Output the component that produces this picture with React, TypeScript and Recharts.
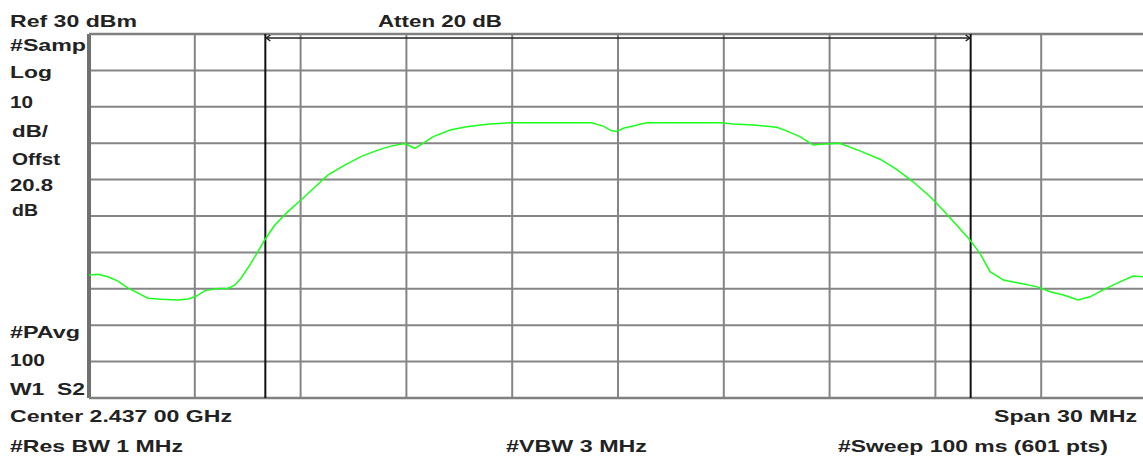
import React from "react";
import { LineChart, Line, XAxis, YAxis, CartesianGrid, ReferenceLine } from "recharts";

// Frequency offset from center (MHz) and trace power (dBm)
const FREQ_OFFSET_MHZ = [
    -15.0, -14.74, -14.46, -14.18, -13.89, -13.61, -13.33, -12.96, -12.48, -12.19,
    -11.99, -11.71, -11.34, -11.06, -10.87, -10.69, -10.41, -10.21, -10.02, -9.73,
    -9.36, -8.99, -8.6, -8.22, -7.75, -7.29, -6.81, -6.44, -6.05, -5.76,
    -5.52, -5.24, -4.76, -4.29, -3.72, -3.06, -1.93, -0.75, -0.42, -0.18,
    -0.04, 0.15, 0.43, 0.81, 1.85, 2.89, 3.27, 3.84, 4.5, 4.78,
    5.16, 5.54, 5.73, 6.29, 6.86, 7.43, 7.9, 8.37, 8.85, 9.22,
    9.6, 9.98, 10.26, 10.55, 10.93, 11.4, 11.87, 12.25, 12.63, 13.05,
    13.38, 13.76, 14.23, 14.61, 14.89, 15.0,
];
const POWER_DBM = [
    -36.2, -36.0, -36.7, -37.9, -39.8, -41.2, -42.6, -42.9, -43.1, -42.8,
    -42.2, -40.5, -39.9, -39.9, -39.0, -37.1, -33.0, -29.8, -26.6, -22.5,
    -18.8, -15.6, -12.1, -8.7, -6.0, -3.7, -1.9, -0.8, -0.1, -1.4,
    0.0, 1.8, 3.6, 4.5, 5.2, 5.6, 5.6, 5.6, 4.7, 3.4,
    3.2, 4.1, 4.7, 5.6, 5.6, 5.6, 5.3, 5.0, 4.4, 3.4,
    1.8, -0.5, -0.3, 0.0, -2.1, -4.4, -7.2, -10.6, -14.7, -18.4,
    -22.5, -26.6, -30.2, -35.3, -37.6, -38.5, -39.4, -40.8, -41.7, -43.1,
    -42.2, -40.3, -38.1, -36.5, -36.7, -36.8,
];

// 10 divisions each way: span 30 MHz, 10 dB/div from Ref 30 dBm
const X_TICKS = [-15, -12, -9, -6, -3, 0, 3, 6, 9, 12, 15];
const Y_TICKS = [30, 20, 10, 0, -10, -20, -30, -40, -50, -60, -70];
const MARKERS = [-10, 10];
const ARROW_LEVEL = 28.9;

// screen annotations: [text, x, baseline, width]
const LABELS: [string, number, number, number][] = [
    ["Ref 30 dBm", 10, 27, 127],
    ["Atten 20 dB", 378, 27, 124],
    ["#Samp", 10, 51, 76],
    ["Log", 10, 78, 42],
    ["10", 10, 108, 23],
    ["dB/", 12, 137, 36],
    ["Offst", 12, 165, 48],
    ["20.8", 10, 191, 43],
    ["dB", 12, 216, 26],
    ["#PAvg", 10, 338, 70],
    ["100", 10, 366, 35],
    ["W1  S2", 10, 395, 75],
    ["Center 2.437 00 GHz", 10, 422, 222],
    ["Span 30 MHz", 994, 422, 143],
    ["#Res BW 1 MHz", 10, 452, 173],
    ["#VBW 3 MHz", 506, 452, 141],
    ["#Sweep 100 ms (601 pts)", 838, 452, 270],
];

const data = FREQ_OFFSET_MHZ.map((f, i) => ({ f, p: POWER_DBM[i] }));

// span arrow between the two markers
const ArrowLine = (props: any) => {
    const { x1, y1, x2, y2 } = props;
    return (
        <g stroke="#222" strokeWidth={1.5} fill="none">
            <line x1={x1} y1={y1} x2={x2} y2={y2} />
            <polyline points={`${x1 + 5},${y1 - 3} ${x1 + 1},${y1} ${x1 + 5},${y1 + 3}`} />
            <polyline points={`${x2 - 5},${y2 - 3} ${x2 - 1},${y2} ${x2 - 5},${y2 + 3}`} />
        </g>
    );
};

const App: React.FC = () => {
    return (
        <div
            style={{
                position: "absolute",
                left: 0,
                top: 0,
                width: 1143,
                height: 459,
                overflow: "hidden",
                background: "#fff",
            }}
        >
            {/* the screen grid runs a few px past the right edge of the capture */}
            <LineChart width={1147} height={459} data={data} margin={{ top: 34, left: 89, right: 0, bottom: 61 }}>
                <CartesianGrid
                    stroke="#858585"
                    strokeWidth={2}
                    horizontalValues={Y_TICKS}
                    verticalValues={X_TICKS}
                />
                <XAxis dataKey="f" type="number" domain={[-15, 15]} ticks={X_TICKS} hide />
                <YAxis type="number" domain={[-70, 30]} ticks={Y_TICKS} hide />
                <ReferenceLine x={-15} stroke="#707070" strokeWidth={4} />
                <ReferenceLine y={30} stroke="#808080" strokeWidth={2.5} />
                <ReferenceLine y={-70} stroke="#808080" strokeWidth={2.5} />
                {MARKERS.map((m) => (
                    <ReferenceLine key={m} x={m} stroke="#111" strokeWidth={2} />
                ))}
                <ReferenceLine
                    segment={[
                        { x: MARKERS[0], y: ARROW_LEVEL },
                        { x: MARKERS[1], y: ARROW_LEVEL },
                    ]}
                    shape={ArrowLine}
                />
                <Line
                    type="linear"
                    dataKey="p"
                    stroke="#1aff1a"
                    strokeWidth={1.5}
                    dot={false}
                    isAnimationActive={false}
                />
            </LineChart>
            <svg
                width={1143}
                height={459}
                style={{ position: "absolute", left: 0, top: 0, pointerEvents: "none" }}
            >
                {LABELS.map(([t, x, y, w]) => (
                    <text
                        key={t}
                        x={x}
                        y={y}
                        textLength={w}
                        lengthAdjust="spacingAndGlyphs"
                        fontFamily="'Liberation Sans', Arial, sans-serif"
                        fontWeight="bold"
                        fontSize={17}
                        fill="#222"
                        style={{ whiteSpace: "pre" }}
                    >
                        {t}
                    </text>
                ))}
            </svg>
        </div>
    );
};

export default App;
